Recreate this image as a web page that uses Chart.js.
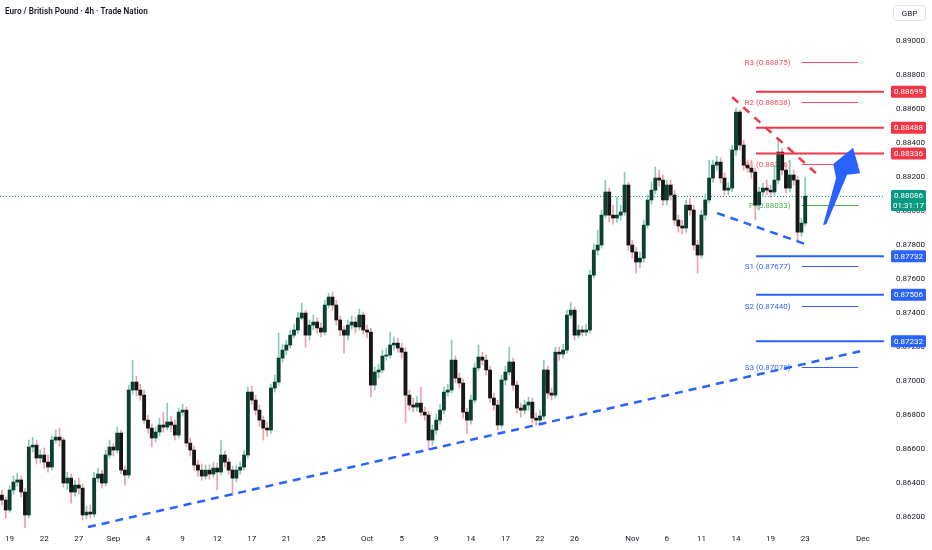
<!DOCTYPE html>
<html><head><meta charset="utf-8">
<script src="https://cdn.jsdelivr.net/npm/chart.js@4.4.1/dist/chart.umd.min.js"></script>
<style>html,body{margin:0;padding:0;background:#fff;overflow:hidden}#wrap{width:932px;height:550px}</style>
</head><body><div id="wrap"><canvas id="c" width="932" height="550"></canvas></div>
<script>
const title = "Euro / British Pound · 4h · Trade Nation";
const currency = "GBP";
const firstOpen = 0.86327;
const closes = [
0.86298,0.86239,0.86357,0.86404,0.86416,0.86345,0.86210,0.86610,0.86621,0.86545,
0.86563,0.86521,0.86492,0.86651,0.86668,0.86651,0.86398,0.86427,0.86345,0.86386,
0.86368,0.86210,0.86227,0.86216,0.86427,0.86451,0.86398,0.86563,0.86610,0.86592,
0.86692,0.86474,0.86445,0.86945,0.86992,0.86945,0.86915,0.86768,0.86721,0.86663,
0.86698,0.86739,0.86727,0.86757,0.86739,0.86680,0.86815,0.86827,0.86633,0.86592,
0.86504,0.86474,0.86439,0.86474,0.86451,0.86486,0.86463,0.86563,0.86521,0.86474,
0.86427,0.86474,0.86492,0.86563,0.86933,0.86886,0.86827,0.86768,0.86721,0.86710,
0.86957,0.86992,0.87133,0.87180,0.87210,0.87268,0.87298,0.87369,0.87398,0.87268,
0.87327,0.87345,0.87310,0.87286,0.87445,0.87492,0.87445,0.87357,0.87298,0.87268,
0.87327,0.87345,0.87316,0.87386,0.87298,0.87286,0.86974,0.87051,0.87063,0.87145,
0.87151,0.87210,0.87221,0.87192,0.87168,0.86915,0.86857,0.86845,0.86868,0.86815,
0.86798,0.86651,0.86710,0.86768,0.86827,0.86933,0.86945,0.87121,0.87015,0.86986,
0.86815,0.86768,0.86886,0.87075,0.87139,0.87121,0.87063,0.86898,0.86857,0.86739,
0.87004,0.87051,0.87110,0.86974,0.86839,0.86827,0.86857,0.86874,0.86780,0.86768,
0.86792,0.87063,0.86927,0.86915,0.87168,0.87157,0.87180,0.87386,0.87415,0.87268,
0.87298,0.87286,0.87298,0.87621,0.87768,0.87798,0.87974,0.88110,0.87974,0.87957,
0.87974,0.87992,0.88151,0.87798,0.87757,0.87698,0.87721,0.87915,0.88063,0.88121,
0.88192,0.88180,0.88063,0.88151,0.88092,0.87945,0.87910,0.87898,0.88033,0.88004,
0.87798,0.87739,0.87974,0.88063,0.88192,0.88268,0.88286,0.88192,0.88121,0.88133,
0.88357,0.88580,0.88386,0.88268,0.88251,0.88227,0.88033,0.88110,0.88133,0.88121,
0.88110,0.88180,0.88345,0.88239,0.88133,0.88210,0.88180,0.87874,0.87927,0.88086];
const highs = [
0.86357,0.86316,0.86380,0.86439,0.86456,0.86439,0.86368,0.86651,0.86668,0.86651,
0.86592,0.86604,0.86563,0.86674,0.86710,0.86721,0.86663,0.86462,0.86451,0.86415,
0.86427,0.86392,0.86263,0.86269,0.86462,0.86486,0.86474,0.86592,0.86651,0.86627,
0.86727,0.86710,0.86498,0.86974,0.87121,0.87027,0.86980,0.86945,0.86798,0.86745,
0.86727,0.86780,0.86815,0.86868,0.86792,0.86768,0.86839,0.86862,0.86845,0.86663,
0.86616,0.86533,0.86510,0.86504,0.86504,0.86521,0.86515,0.86651,0.86586,0.86545,
0.86498,0.86504,0.86521,0.86592,0.86963,0.86968,0.86915,0.86857,0.86792,0.86757,
0.86980,0.87033,0.87280,0.87215,0.87239,0.87298,0.87333,0.87404,0.87457,0.87415,
0.87357,0.87386,0.87368,0.87339,0.87474,0.87515,0.87521,0.87474,0.87380,0.87321,
0.87357,0.87380,0.87374,0.87421,0.87404,0.87327,0.87310,0.87080,0.87098,0.87180,
0.87192,0.87286,0.87257,0.87251,0.87221,0.87192,0.86945,0.86898,0.86910,0.86963,
0.86845,0.86821,0.86739,0.86804,0.86862,0.86963,0.86980,0.87239,0.87145,0.87045,
0.87010,0.86839,0.86915,0.87104,0.87210,0.87168,0.87151,0.87086,0.86927,0.86886,
0.87033,0.87086,0.87198,0.87133,0.86998,0.86868,0.86886,0.86904,0.86898,0.86810,
0.86827,0.87121,0.87086,0.86957,0.87198,0.87198,0.87215,0.87415,0.87462,0.87433,
0.87327,0.87321,0.87333,0.87651,0.87804,0.87886,0.88004,0.88180,0.88133,0.88033,
0.88080,0.88033,0.88227,0.88168,0.87827,0.87786,0.87757,0.87945,0.88092,0.88168,
0.88257,0.88239,0.88210,0.88180,0.88180,0.88121,0.87974,0.87945,0.88063,0.88074,
0.88033,0.87827,0.88004,0.88098,0.88298,0.88298,0.88321,0.88310,0.88221,0.88163,
0.88386,0.88604,0.88592,0.88415,0.88298,0.88298,0.88251,0.88139,0.88163,0.88180,
0.88151,0.88268,0.88415,0.88368,0.88268,0.88298,0.88239,0.88204,0.87957,0.88198];
const lows = [
0.86269,0.86192,0.86227,0.86333,0.86380,0.86316,0.86133,0.86192,0.86580,0.86510,
0.86515,0.86486,0.86462,0.86474,0.86633,0.86616,0.86374,0.86357,0.86280,0.86321,
0.86333,0.86180,0.86186,0.86192,0.86198,0.86404,0.86368,0.86380,0.86545,0.86557,
0.86574,0.86451,0.86386,0.86427,0.86921,0.86910,0.86886,0.86745,0.86692,0.86610,
0.86639,0.86674,0.86698,0.86710,0.86698,0.86651,0.86663,0.86792,0.86610,0.86557,
0.86474,0.86439,0.86415,0.86421,0.86421,0.86433,0.86357,0.86445,0.86492,0.86451,
0.86327,0.86404,0.86451,0.86474,0.86545,0.86862,0.86798,0.86733,0.86651,0.86674,
0.86692,0.86933,0.86974,0.87110,0.87151,0.87192,0.87251,0.87280,0.87357,0.87198,
0.87239,0.87298,0.87280,0.87257,0.87268,0.87427,0.87415,0.87327,0.87263,0.87162,
0.87239,0.87304,0.87280,0.87298,0.87274,0.87251,0.86904,0.86945,0.87016,0.87045,
0.87121,0.87133,0.87180,0.87168,0.87133,0.86751,0.86827,0.86815,0.86821,0.86792,
0.86768,0.86592,0.86621,0.86686,0.86745,0.86804,0.86910,0.86927,0.86986,0.86957,
0.86780,0.86692,0.86745,0.86868,0.87057,0.87092,0.87033,0.86874,0.86827,0.86710,
0.86721,0.86974,0.87033,0.86945,0.86810,0.86786,0.86804,0.86827,0.86751,0.86739,
0.86745,0.86774,0.86898,0.86886,0.86898,0.87121,0.87133,0.87162,0.87368,0.87239,
0.87251,0.87263,0.87263,0.87280,0.87604,0.87739,0.87780,0.87957,0.87933,0.87921,
0.87933,0.87945,0.87974,0.87768,0.87721,0.87633,0.87663,0.87698,0.87898,0.88039,
0.88098,0.88145,0.88033,0.88033,0.88063,0.87915,0.87874,0.87863,0.87874,0.87974,
0.87768,0.87633,0.87721,0.87945,0.88045,0.88168,0.88239,0.88163,0.88092,0.88092,
0.88110,0.88327,0.88357,0.88239,0.88227,0.88192,0.87945,0.88004,0.88086,0.88092,
0.88074,0.88086,0.88157,0.88210,0.88104,0.88110,0.88151,0.87827,0.87851,0.87910];

// time axis: trading days from Mon 18 Aug, three 8h slots per day
const tradingDays = 77;
const tickDays = [1,4,7,10,13,16,19,22,25,28,32,35,38,41,44,47,50,55,58,61,64,67,70,75];
const tickText = ["19","22","27","Sep","4","9","12","17","21","25","Oct","5","9","14","17","22","26","Nov","6","11","14","19","23","Dec"];
const yTicks = [0.862,0.864,0.866,0.868,0.870,0.872,0.874,0.876,0.878,0.880,0.882,0.884,0.886,0.888,0.890];
const yMin = 0.861335, yMax = 0.892394;

const resistance = [0.88699,0.88488,0.88336];
const support = [0.87732,0.87506,0.87232];
const pivotNames = ["R3","R2","R1","P","S1","S2","S3"];
const pivotValues = [0.88875,0.88638,0.88276,0.88033,0.87677,0.87440,0.87078];
const lastPrice = 0.88086;
const countdown = "01:31:17";

// drawings in (slot index, price)
const levelStart = 196.2;
const pivotFrom = 208.1, pivotTo = 222.8, pivotLabelEnd = 205.2;
const supportTrend = [[22.4,0.86139],[224.8,0.87181]];
const wedgeTop = [[190.0,0.88668],[212.9,0.88198]];
const wedgeBottom = [[186.1,0.87986],[209.0,0.87804]];
const arrowShape = [[213.66,0.87916],[217.04,0.88192],[216.3,0.88274],[221.46,0.88371],[223.3,0.88221],[219.9,0.88212],[214.5,0.87921]];

const labels = [];
for (let d = 0; d < tradingDays; d++) {
  for (let k = 0; k < 3; k++) {
    const s = 3 * d - 1 + k;
    if (s < 0) continue;
    const t = tickDays.indexOf(d);
    labels[s] = (k === 0 && t >= 0) ? tickText[t] : '';
  }
}
const opens = closes.map((c, i) => i === 0 ? firstOpen : closes[i - 1]);
const isUp = i => closes[i] >= opens[i];

const RED = '#f23645', BLUE = '#2962ff', GREEN = '#089981';
const FONT = 'Roboto, "Noto Sans", sans-serif';

function P(chart, pt) { return [chart.scales.x.getPixelForValue(pt[0]), chart.scales.y.getPixelForValue(pt[1])]; }
function seg(ctx, a, b) { ctx.beginPath(); ctx.moveTo(a[0], a[1]); ctx.lineTo(b[0], b[1]); ctx.stroke(); }

const overlay = {
  id: 'overlay',
  beforeDatasetsDraw(chart) {
    const { ctx, chartArea: a, scales: { x, y } } = chart;
    ctx.save();
    ctx.strokeStyle = GREEN; ctx.lineWidth = 1; ctx.setLineDash([1, 2]);
    const ly = Math.round(y.getPixelForValue(lastPrice)) + 0.5;
    seg(ctx, [a.left, ly], [a.right, ly]);
    ctx.setLineDash([]);
    ctx.font = '8px ' + FONT; ctx.textAlign = 'right'; ctx.textBaseline = 'middle';
    pivotValues.forEach((v, k) => {
      const col = k < 3 ? '#f0505e' : (k === 3 ? '#4caf50' : '#3466f0');
      const py = Math.round(y.getPixelForValue(v)) + 0.5;
      ctx.strokeStyle = col; ctx.lineWidth = 1;
      seg(ctx, [x.getPixelForValue(pivotFrom), py], [x.getPixelForValue(pivotTo), py]);
      ctx.fillStyle = col;
      ctx.fillText(pivotNames[k] + ' (' + v.toFixed(5) + ')', x.getPixelForValue(pivotLabelEnd), py);
    });
    ctx.restore();
  },
  afterDatasetsDraw(chart) {
    const { ctx, chartArea: a, scales: { x, y } } = chart;
    ctx.save();
    ctx.beginPath(); ctx.rect(a.left, a.top, a.right - a.left, a.bottom - a.top); ctx.clip();
    ctx.lineWidth = 2;
    resistance.forEach(v => { ctx.strokeStyle = RED; const py = y.getPixelForValue(v); seg(ctx, [x.getPixelForValue(levelStart), py], [a.right, py]); });
    support.forEach(v => { ctx.strokeStyle = BLUE; const py = y.getPixelForValue(v); seg(ctx, [x.getPixelForValue(levelStart), py], [a.right, py]); });
    ctx.lineWidth = 2.5; ctx.lineCap = 'butt';
    ctx.setLineDash([8, 6]); ctx.strokeStyle = BLUE;
    seg(ctx, P(chart, supportTrend[0]), P(chart, supportTrend[1]));
    seg(ctx, P(chart, wedgeBottom[0]), P(chart, wedgeBottom[1]));
    ctx.setLineDash([8, 7]); ctx.strokeStyle = RED;
    seg(ctx, P(chart, wedgeTop[0]), P(chart, wedgeTop[1]));
    ctx.setLineDash([]);
    ctx.fillStyle = BLUE;
    ctx.beginPath();
    arrowShape.forEach((pt, k) => { const q = P(chart, pt); if (k) ctx.lineTo(q[0], q[1]); else ctx.moveTo(q[0], q[1]); });
    ctx.closePath(); ctx.fill();
    ctx.restore();
  },
  afterDraw(chart) {
    const { ctx, chartArea: a, scales: { y } } = chart;
    ctx.save();
    const tx = a.right + 7, tw = 35;
    ctx.font = '8px ' + FONT; ctx.textAlign = 'center'; ctx.textBaseline = 'middle';
    function tag(v, col) {
      const py = y.getPixelForValue(v);
      ctx.fillStyle = col; ctx.beginPath(); ctx.roundRect(tx, py - 6, tw, 12, 1.5); ctx.fill();
      ctx.fillStyle = '#fff'; ctx.fillText(v.toFixed(5), tx + tw / 2, py + 0.5);
    }
    resistance.forEach(v => tag(v, RED));
    support.forEach(v => tag(v, BLUE));
    const py = y.getPixelForValue(lastPrice);
    ctx.fillStyle = GREEN; ctx.beginPath(); ctx.roundRect(tx, py - 6, tw, 21, 1.5); ctx.fill();
    ctx.fillStyle = '#fff';
    ctx.fillText(lastPrice.toFixed(5), tx + tw / 2, py);
    ctx.fillText(countdown, tx + tw / 2, py + 9.5);
    ctx.fillStyle = '#131722'; ctx.textAlign = 'left'; ctx.font = '600 8.2px ' + FONT;
    ctx.fillText(title, 5, 12);
    ctx.strokeStyle = '#e0e3eb'; ctx.lineWidth = 1;
    ctx.beginPath(); ctx.roundRect(893.5, 5.5, 32, 15, 3); ctx.stroke();
    ctx.fillStyle = '#131722'; ctx.textAlign = 'center'; ctx.font = '8px ' + FONT;
    ctx.fillText(currency, 909.5, 13.5);
    ctx.restore();
  }
};

new Chart(document.getElementById('c'), {
  type: 'bar',
  data: {
    labels,
    datasets: [
      { label: 'body', data: closes.map((c, i) => [opens[i], c]),
        backgroundColor: c => isUp(c.dataIndex) ? '#0c3f32' : '#161616',
        barThickness: 3.2, minBarLength: 1, grouped: false, order: 0 },
      { label: 'wick', data: lows.map((l, i) => [l, highs[i]]),
        backgroundColor: c => isUp(c.dataIndex) ? '#86cdb9' : '#f0a0a8',
        barThickness: 1, grouped: false, order: 1 }
    ]
  },
  options: {
    responsive: false, animation: false,
    layout: { padding: 0 },
    plugins: { legend: { display: false }, tooltip: { enabled: false } },
    scales: {
      x: {
        grid: { display: false, drawTicks: false }, border: { display: false },
        ticks: { autoSkip: false, maxRotation: 0, minRotation: 0, padding: 6, color: '#131722', font: { size: 8, family: FONT } },
        afterFit: s => { s.height = 22; s.paddingLeft = 0; s.paddingRight = 0; }
      },
      y: {
        position: 'right', min: yMin, max: yMax,
        grid: { display: false, drawTicks: false }, border: { display: false },
        afterBuildTicks: s => { s.ticks = yTicks.map(v => ({ value: v })); },
        ticks: { padding: 12, color: '#131722', font: { size: 8, family: FONT }, callback: v => Number(v).toFixed(5) },
        afterFit: s => { s.width = 48; s.paddingTop = 0; s.paddingBottom = 0; }
      }
    }
  },
  plugins: [overlay]
});
</script>
</body></html>
